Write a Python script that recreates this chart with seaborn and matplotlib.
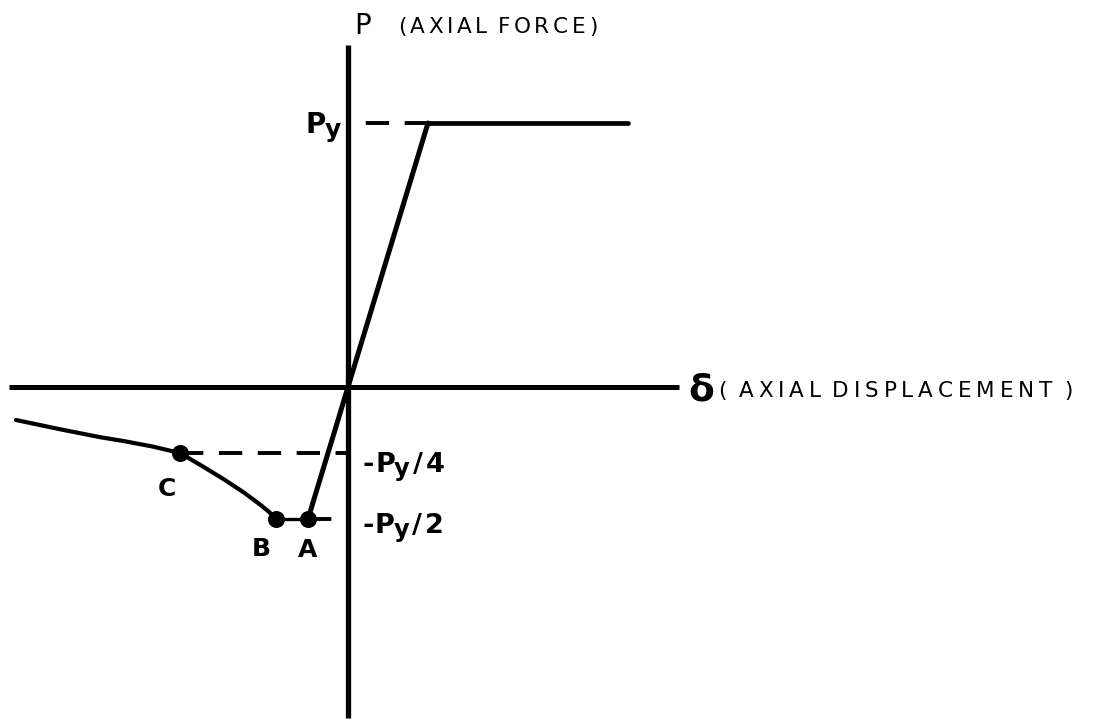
import matplotlib
matplotlib.use("Agg")
import matplotlib.pyplot as plt
import seaborn as sns
import pandas as pd

# Axial force P (in units of Py) versus axial displacement delta (in units of yield displacement)
elastic_delta = [-0.5, 0.0, 1.0]
elastic_force = [-0.5, 0.0, 1.0]

plateau_delta = [1.0, 3.5]
plateau_force = [1.0, 1.0]

buckle_flat_delta = [-0.9, -0.5]          # B -> A
buckle_flat_force = [-0.5, -0.5]

post_buckle_delta = [-0.9, -0.98, -1.1, -1.3, -1.55, -1.82, -2.1, -2.45, -2.8, -3.1, -3.6, -4.15]
post_buckle_force = [-0.5, -0.475, -0.445, -0.40, -0.35, -0.30, -0.25, -0.225, -0.205, -0.19, -0.16, -0.125]

point_names = ["C", "B", "A"]
point_delta = [-2.1, -0.9, -0.5]
point_force = [-0.25, -0.5, -0.5]

ref_levels = [1.0, -0.25, -0.5]          # Py, -Py/4, -Py/2
ref_level_start = [1.0, -2.1, -0.5]      # dashed guide runs from this delta to the P axis

sns.set_theme(style="white")
plt.rcParams["font.family"] = ["DejaVu Sans"]

W, H = 1102, 728
fig = plt.figure(figsize=(W / 100, H / 100), dpi=100)
ax = fig.add_axes([0, 0, 1, 1])
ax.set_xlim(-4.35, 9.425)
ax.set_ylim(-1.2917, 1.466)
ax.axis("off")

ink = "black"

# coordinate axes
ax.plot([-4.24, 4.14], [0, 0], color=ink, lw=3.6, solid_capstyle="butt")
ax.plot([0, 0], [-1.254, 1.295], color=ink, lw=3.8, solid_capstyle="butt")

def line(xs, ys, **kw):
    df = pd.DataFrame({"delta": xs, "P": ys})
    sns.lineplot(data=df, x="delta", y="P", sort=False, estimator=None, ax=ax,
                 color=ink, legend=False, **kw)

line(elastic_delta, elastic_force, lw=3.6)
line(plateau_delta, plateau_force, lw=3.4)
line(post_buckle_delta, post_buckle_force, lw=3.0)
line(buckle_flat_delta, buckle_flat_force, lw=2.4)

# dashed guides to the force axis
for lvl, start in zip(ref_levels, ref_level_start):
    ax.plot([start, 0], [lvl, lvl], color=ink, lw=2.8, dashes=(6, 4), solid_capstyle="butt")

sns.scatterplot(x=point_delta, y=point_force, ax=ax, color=ink, s=150,
                edgecolor=ink, linewidth=0, legend=False, zorder=5)


def px(x, y):
    return x / W, 1 - y / H


def chain(x, y, pieces, weight="normal"):
    """Draw text pieces one after another on a common baseline.
    Each piece is (text, size, extra_gap_pt, baseline_shift_pt)."""
    txt, size, _, shift = pieces[0]
    prev = fig.text(*px(x, y), txt, fontsize=size, fontweight=weight,
                    color=ink, va="baseline")
    for txt, size, gap, shift in pieces[1:]:
        prev = ax.annotate(txt, xy=(1, 0), xycoords=prev, xytext=(gap, shift),
                           textcoords="offset points", va="bottom", ha="left",
                           fontsize=size, fontweight=weight, color=ink,
                           annotation_clip=False)
    return prev


def tracked(x, y, s, size, tracking, weight="normal"):
    space = 0.33 * size
    pieces = [(s[0], size, 0, 0)]
    pending = 0.0
    for ch in s[1:]:
        if ch == " ":
            pending += space
            continue
        pieces.append((ch, size, tracking + pending, 0))
        pending = 0.0
    chain(x, y, pieces, weight)


# axis titles
fig.text(*px(354, 34), "P", fontsize=20, color=ink, va="baseline")
tracked(398, 33, "(AXIAL FORCE)", 15.5, 2.6)
fig.text(*px(688, 400), "δ", fontsize=27, va="baseline", fontweight="bold", color=ink)
tracked(718, 397, "( AXIAL DISPLACEMENT )", 15.5, 3.5)

# level labels
chain(305, 133, [("P", 20, 0, 0), ("y", 18, -0.5, -2)], weight="bold")
chain(363, 472, [("-", 19.5, 0, 0), ("P", 19.5, 0.5, 0), ("y", 17.5, -0.5, -2),
                 ("/", 19.5, 2.5, 2), ("4", 19.5, 2.0, 0)], weight="bold")
chain(362, 533, [("-", 19.5, 0, 0), ("P", 19.5, 0.5, 0), ("y", 17.5, -0.5, -2),
                 ("/", 19.5, 2.5, 2), ("2", 19.5, 2.0, 0)], weight="bold")

# point labels
label_pos = {"C": (158, 496), "B": (252, 556), "A": (298, 557)}
for name in point_names:
    fig.text(*px(*label_pos[name]), name, fontsize=18, va="baseline",
             fontweight="bold", color=ink)

fig.savefig("out.png", dpi=100, facecolor="white")
